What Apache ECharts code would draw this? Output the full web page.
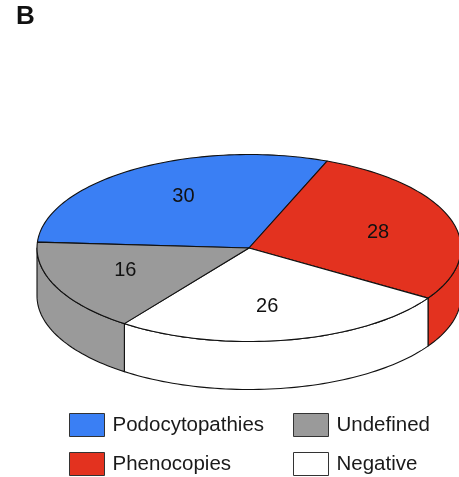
<!DOCTYPE html>
<html>
<head>
<meta charset="utf-8">
<script src="https://cdn.jsdelivr.net/npm/echarts@6/dist/echarts.min.js"></script>
<style>
  html, body { margin: 0; padding: 0; background: #fff; }
  #chart { width: 459px; height: 477px; }
</style>
</head>
<body>
<div id="chart"></div>
<script>
// Case categories and their counts
const categories = ['Podocytopathies', 'Phenocopies', 'Negative', 'Undefined'];
const counts = [30, 28, 26, 16];
const colors = ['#3a7ff4', '#e3321f', '#ffffff', '#9a9a9a'];
const legendLeftColumn = ['Podocytopathies', 'Phenocopies'];
const legendRightColumn = ['Undefined', 'Negative'];

// Geometry of the tilted disc
const CX = 249, CY = 248, RX = 212, RY = 93.5, DEPTH = 48, START_ANGLE = 176.4;
const LABEL_RADIUS = 0.63, LABEL_TURN = -3;
const FONT = '"Liberation Sans", Arial, Helvetica, sans-serif';
const total = counts.reduce((a, b) => a + b, 0);

function point(t, dy) {
  const r = t * Math.PI / 180;
  return [CX + RX * Math.cos(r), CY - RY * Math.sin(r) + (dy || 0)];
}
function arc(from, to, dy) {
  const n = Math.max(2, Math.ceil(Math.abs(from - to) / 1.5));
  const pts = [];
  for (let i = 0; i <= n; i++) pts.push(point(from + (to - from) * i / n, dy));
  return pts;
}

function makeRenderer(index) {
  return function (params, api) {
    const value = api.value(0);
    let before = 0;
    for (let i = 0; i < index; i++) before += counts[i];
    const a1 = START_ANGLE - before / total * 360;
    const a2 = a1 - value / total * 360;
    const color = colors[index];
    const stroke = { stroke: '#111', lineWidth: 1.1, lineJoin: 'round' };
    const children = [];

    // front wall: the part of the rim facing the viewer (angles -180..0)
    [-360, 0, 360].forEach(function (k) {
      const hi = Math.min(a1 + k, 0), lo = Math.max(a2 + k, -180);
      if (hi > lo) {
        const pts = arc(hi, lo, 0).concat(arc(lo, hi, DEPTH));
        children.push({
          type: 'polygon', z2: 1,
          shape: { points: pts },
          style: Object.assign({ fill: color }, stroke)
        });
      }
    });

    // top face
    children.push({
      type: 'polygon', z2: 5,
      shape: { points: [[CX, CY]].concat(arc(a1, a2, 0)) },
      style: Object.assign({ fill: color }, stroke)
    });

    // value label
    const mid = ((a1 + a2) / 2 + LABEL_TURN) * Math.PI / 180;
    children.push({
      type: 'text', z2: 20,
      x: CX + LABEL_RADIUS * RX * Math.cos(mid),
      y: CY - LABEL_RADIUS * RY * Math.sin(mid),
      style: {
        text: String(value), fill: '#111', font: '20px ' + FONT,
        align: 'center', verticalAlign: 'middle'
      }
    });
    return { type: 'group', children: children };
  };
}

const series = categories.map(function (name, i) {
  return {
    type: 'custom',
    name: name,
    coordinateSystem: 'none',
    silent: true,
    itemStyle: { color: colors[i] },
    data: [[counts[i]]],
    renderItem: makeRenderer(i)
  };
});

const legendBase = {
  orient: 'vertical',
  top: 413,
  height: 64,
  padding: 0,
  itemWidth: 35,
  itemHeight: 23,
  itemGap: 15,
  icon: 'rect',
  selectedMode: false,
  itemStyle: { borderColor: '#333', borderWidth: 1 },
  textStyle: { fontFamily: FONT, fontSize: 20.5, color: '#1a1a1a', padding: [0, 0, 0, 3] }
};

const chart = echarts.init(document.getElementById('chart'), null, { renderer: 'canvas' });
chart.setOption({
  animation: false,
  backgroundColor: '#fff',
  title: {
    text: 'B', left: 16, top: 4, padding: 0,
    textStyle: { fontFamily: FONT, fontSize: 26, fontWeight: 'bold', color: '#111' }
  },
  legend: [
    Object.assign({ left: 69, data: legendLeftColumn }, legendBase),
    Object.assign({ left: 293, data: legendRightColumn }, legendBase)
  ],
  series: series
});
</script>
</body>
</html>
